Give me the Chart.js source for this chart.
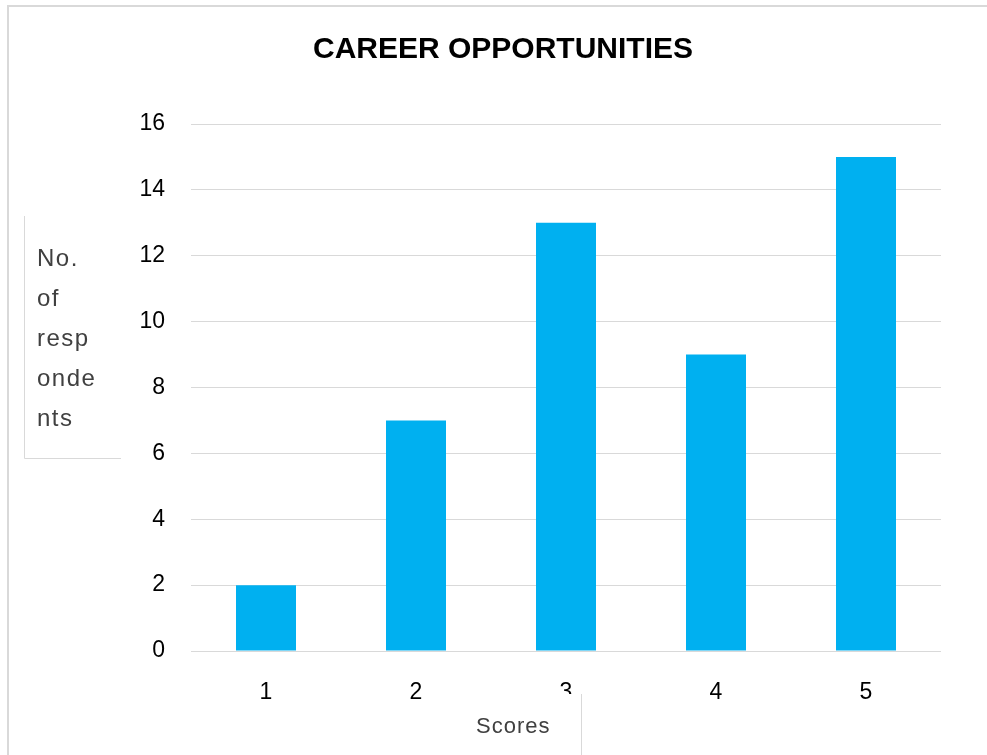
<!DOCTYPE html>
<html>
<head>
<meta charset="utf-8">
<title>Career Opportunities</title>
<script src="https://cdn.jsdelivr.net/npm/chart.js@4"></script>
<style>
  html, body { margin: 0; padding: 0; background: #fff; overflow: hidden; }
  #wrap { width: 987px; height: 755px; position: relative; }
</style>
</head>
<body>
<div id="wrap"><canvas id="careerChart" width="987" height="755"></canvas></div>
<script>
// scores on the x axis, respondent counts per score
const scores = ['1', '2', '3', '4', '5'];
const respondents = [2, 7, 13, 9, 15];
const yTicks = [0, 2, 4, 6, 8, 10, 12, 14, 16];
const yTitleLines = ['No.', 'of', 'resp', 'onde', 'nts'];
const xTitle = 'Scores';

const BAR_BLUE = '#00B0F0';
const GRID = '#d9d9d9';

// frame, axis-title boxes and their text
const decorations = {
  id: 'decorations',
  beforeDraw(chart) {
    const ctx = chart.ctx;
    ctx.save();
    ctx.strokeStyle = GRID;
    ctx.lineWidth = 2;
    ctx.beginPath();
    ctx.moveTo(8, 760);
    ctx.lineTo(8, 6);
    ctx.lineTo(990, 6);
    ctx.stroke();
    ctx.restore();
  },
  afterDraw(chart) {
    const ctx = chart.ctx;
    ctx.save();

    // y title box (left + bottom edge visible)
    ctx.strokeStyle = GRID;
    ctx.lineWidth = 1;
    ctx.beginPath();
    ctx.moveTo(24.5, 216);
    ctx.lineTo(24.5, 458.5);
    ctx.lineTo(121, 458.5);
    ctx.stroke();

    ctx.fillStyle = '#404040';
    ctx.font = '24px "Liberation Sans", Arial, sans-serif';
    ctx.letterSpacing = '1.5px';
    ctx.textAlign = 'left';
    ctx.textBaseline = 'alphabetic';
    yTitleLines.forEach((line, i) => {
      ctx.fillText(line, 37, 266 + i * 40);
    });

    // x title box sits over the tick row
    ctx.fillStyle = '#fff';
    ctx.fillRect(455, 694, 126, 70);
    ctx.strokeStyle = GRID;
    ctx.beginPath();
    ctx.moveTo(581.5, 694);
    ctx.lineTo(581.5, 760);
    ctx.stroke();

    ctx.fillStyle = '#404040';
    ctx.letterSpacing = '1px';
    ctx.font = '22px "Liberation Sans", Arial, sans-serif';
    ctx.fillText(xTitle, 476, 733);
    ctx.restore();
  }
};

document.addEventListener('DOMContentLoaded', () => {
  const ctx = document.getElementById('careerChart');

  new Chart(ctx, {
    type: 'bar',
    data: {
      labels: scores,
      datasets: [{
        label: 'Respondents',
        data: respondents,
        backgroundColor: BAR_BLUE,
        borderWidth: 0,
        categoryPercentage: 1,
        barPercentage: 0.4
      }]
    },
    options: {
      responsive: false,
      animation: false,
      layout: { padding: { left: 19, right: 0, top: 0, bottom: 0 } },
      plugins: {
        legend: { display: false },
        tooltip: { enabled: false },
        title: {
          display: true,
          text: 'CAREER OPPORTUNITIES',
          color: '#000',
          font: { family: '"Liberation Sans", Arial, sans-serif', size: 30, weight: 'bold', lineHeight: 1.2 },
          padding: { top: 32, bottom: 56 }
        }
      },
      scales: {
        x: {
          grid: { display: false, drawTicks: false },
          border: { display: false },
          ticks: {
            color: '#000',
            padding: 28,
            font: { family: '"Liberation Sans", Arial, sans-serif', size: 23 }
          },
          afterFit(scale) { scale.height = 104; }
        },
        y: {
          min: 0,
          max: 16,
          afterBuildTicks(scale) {
            scale.ticks = yTicks.map(v => ({ value: v }));
          },
          grid: { color: GRID, lineWidth: 1, drawTicks: false },
          border: { display: false },
          ticks: {
            color: '#000',
            padding: 26,
            font: { family: '"Liberation Sans", Arial, sans-serif', size: 23 }
          },
          afterFit(scale) { scale.width = 172; }
        },
        // empty strip on the right so the plot ends short of the frame
        yRight: {
          position: 'right',
          min: 0,
          max: 16,
          grid: { display: false, drawTicks: false },
          border: { display: false },
          ticks: { display: false },
          afterFit(scale) { scale.width = 46; }
        }
      }
    },
    plugins: [decorations]
  });
});
</script>
</body>
</html>
